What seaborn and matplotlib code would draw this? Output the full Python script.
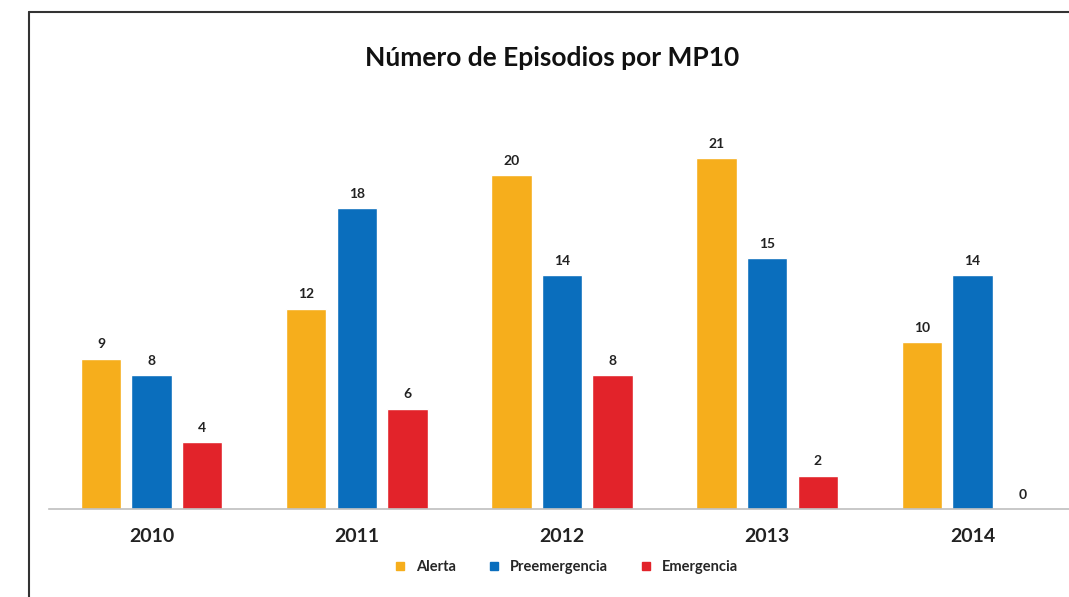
import matplotlib
matplotlib.use("Agg")
import matplotlib.pyplot as plt
from matplotlib.lines import Line2D
import pandas as pd
import seaborn as sns

# Datos del grafico
years = ["2010", "2011", "2012", "2013", "2014"]
alerta = [9, 12, 20, 21, 10]
preemergencia = [8, 18, 14, 15, 14]
emergencia = [4, 6, 8, 2, 0]
series_names = ["Alerta", "Preemergencia", "Emergencia"]
series_colors = ["#F6AE1C", "#0A6EBD", "#E2232A"]

df = pd.DataFrame({
    "Año": years * 3,
    "Episodios": alerta + preemergencia + emergencia,
    "Tipo": [s for s in series_names for _ in years],
})

sns.set_style("white")
plt.rcParams["font.family"] = ["Lato", "DejaVu Sans"]

fig = plt.figure(figsize=(10.69, 5.97), dpi=100)
ax = fig.add_axes([49 / 1069, 88 / 597, 1026 / 1069, 401 / 597])

sns.barplot(
    data=df, x="Año", y="Episodios", hue="Tipo",
    palette=series_colors, width=0.74, gap=0.2,
    saturation=1, ax=ax, legend=False,
)

for container in ax.containers:
    ax.bar_label(container, padding=6, fontsize=10, fontweight="bold", color="#222222")

ax.set_ylim(0, 24)
ax.set_xlim(-0.5, 4.5)
ax.set_xlabel("")
ax.set_ylabel("")
ax.set_yticks([])
ax.tick_params(axis="x", length=0, pad=14)
for lbl in ax.get_xticklabels():
    lbl.set_fontsize(14)
    lbl.set_fontweight("bold")
    lbl.set_color("#222222")
for side in ["top", "right", "left"]:
    ax.spines[side].set_visible(False)
ax.spines["bottom"].set_color("#BFBFBF")
ax.spines["bottom"].set_linewidth(1.2)

fig.text(552 / 1069, 1 - 58 / 597, "Número de Episodios por MP10",
         ha="center", va="center", fontsize=19, fontweight="bold", color="#111111")

handles = [Line2D([0], [0], marker="s", linestyle="", markersize=6,
                  markerfacecolor=c, markeredgecolor=c) for c in series_colors]
fig.legend(handles, series_names, loc="center", bbox_to_anchor=(562 / 1069, 30 / 597),
           ncol=3, frameon=False, handletextpad=0.1, columnspacing=1.6,
           prop={"weight": "bold", "size": 10.5})

# marco exterior
fig.add_artist(Line2D([29 / 1069, 29 / 1069], [0, 1 - 12 / 597],
                      transform=fig.transFigure, color="#333333", linewidth=1.5))
fig.add_artist(Line2D([29 / 1069, 1], [1 - 12 / 597, 1 - 12 / 597],
                      transform=fig.transFigure, color="#333333", linewidth=1.5))

fig.savefig("out.png", dpi=100)
